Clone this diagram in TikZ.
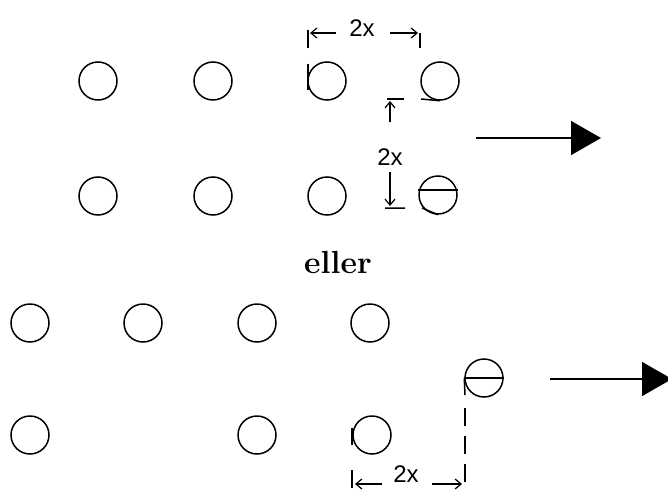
\documentclass[tikz,border=0pt]{standalone}
\usepackage{fontspec}
\newfontfamily\dimfont{Liberation Sans}
\usetikzlibrary{arrows.meta}
\begin{document}
\begin{tikzpicture}[x=1pt,y=-1pt,line width=1.5pt,
    atom/.style={circle,draw,minimum size=38pt,inner sep=0pt},
    dimlbl/.style={font=\dimfont\fontsize{24}{24}\selectfont},
    dimarr/.style={line width=1.2pt,-{Straight Barb[length=6pt,width=10pt]}},
    bigarr/.style={line width=1.5pt,-{Triangle[length=30pt,width=34pt]}}]
            \useasboundingbox (0,0) rectangle (668,492);
            \foreach \x/\n in {98/1,213/2,327/3,440/4} \node[atom] (a\n) at (\x,81) {};
            \foreach \x/\n in {98/1,213/2,327/3} \node[atom] (b\n) at (\x,196) {};
            \node[atom] (b4) at (438,195) {};
            \draw (b4.west |- 0,190) -- (b4.east |- 0,190);
            \draw (308,64) -- (308,90);
            \draw (421,99) -- (a4.south);
            \draw (308,30) -- (308,48) (420,33) -- (420,48);
            \node[dimlbl] (tx) at (362,28) {2x};
            \draw[dimarr] (336,33) -- (310,33);
            \draw[dimarr] (390,33) -- (418,33);
            \node[dimlbl] (ty) at (390,157) {2x};
            \draw (387,99) -- (404,99);
            \draw[dimarr] (390,122) -- (390,101);
            \draw[dimarr] (390,172) -- (390,206);
            \draw (385,208) -- (405,208) (422,208) -- (b4.south);
            \draw[bigarr] (476,138) -- (601,138);
            \node[font=\bfseries\fontsize{32}{36}\selectfont] (or) at (338,262) {eller};
            \foreach \x/\n in {30/1,143/2,257/3,370/4} \node[atom] (c\n) at (\x,323) {};
            \foreach \x/\n in {30/1,257/3,372/4} \node[atom] (d\n) at (\x,435) {};
            \node[atom] (d5) at (484,378) {};
            \draw (d5.west) -- (d5.east);
            \draw (d5.west) -- (465,395);
            \draw (352,428) -- (352,445);
            \draw[dashed,dash pattern=on 18pt off 10pt] (465,408) -- (465,488);
            \draw (352,470) -- (352,488);
            \node[dimlbl] (tb) at (406,474) {2x};
            \draw[dimarr] (382,484) -- (355,484);
            \draw[dimarr] (432,484) -- (462,484);
            \draw[bigarr] (550,379) -- (672,379);
        \end{tikzpicture}
\end{document}
